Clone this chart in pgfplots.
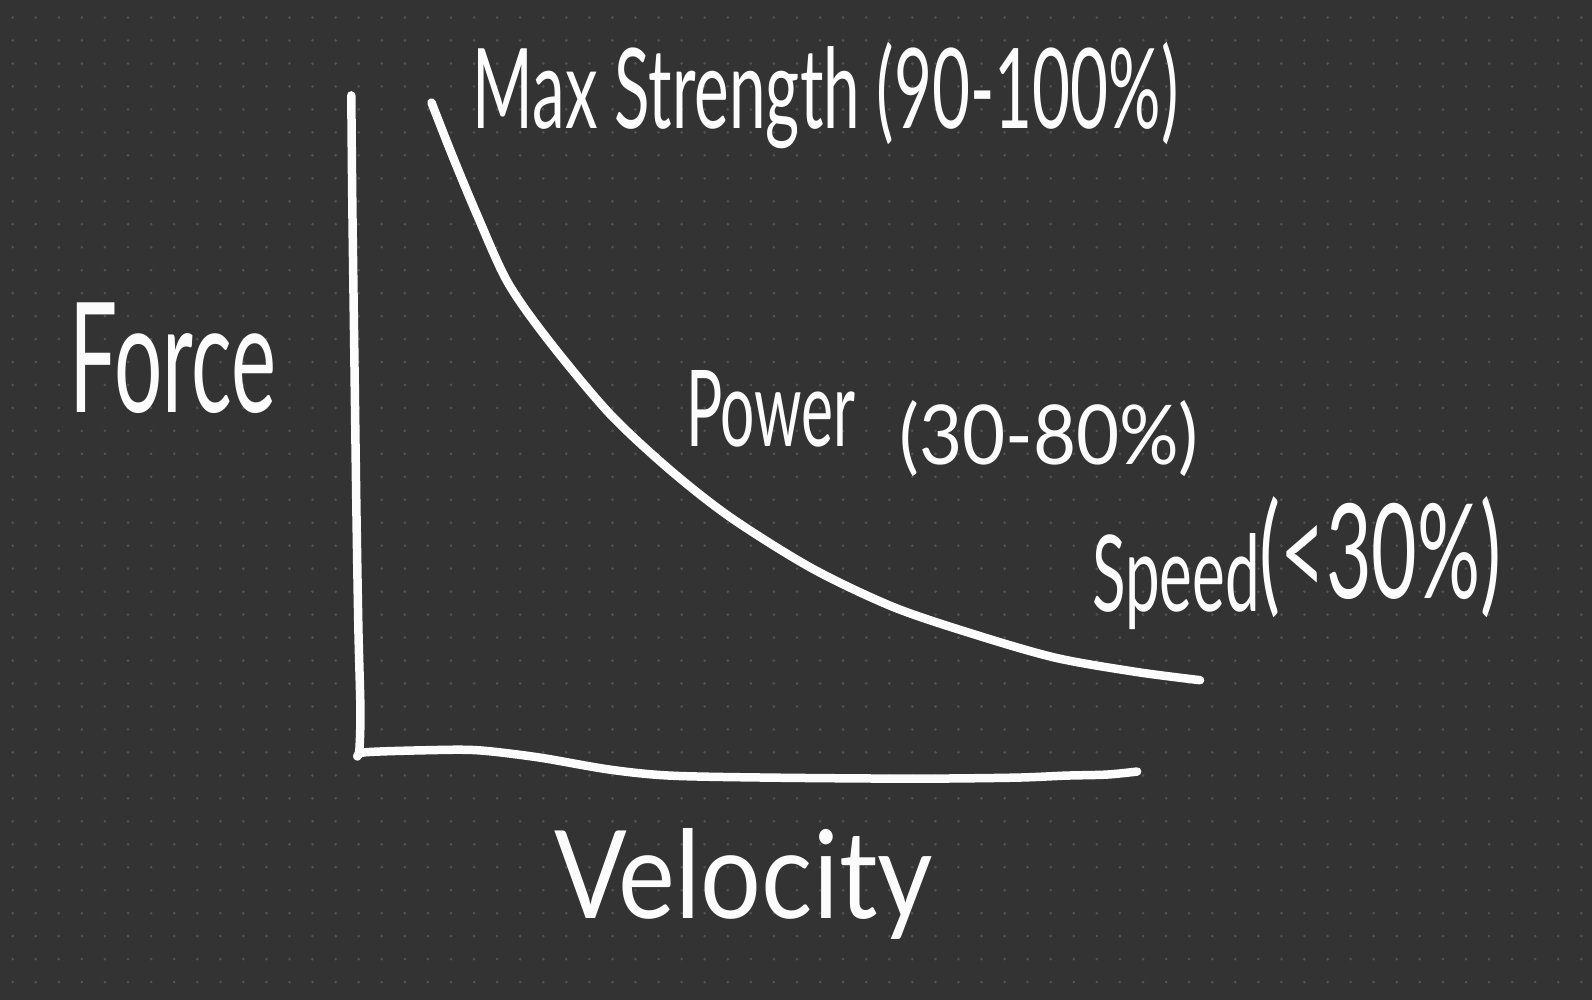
\documentclass[border=0pt]{standalone}
\usepackage{pgfplots}
\pgfplotsset{compat=1.18}
\usepackage{fontspec}
\setmainfont{Lato}
\definecolor{bg}{RGB}{51,51,51}
\definecolor{dotc}{RGB}{82,82,82}
\definecolor{ink}{RGB}{252,252,252}
\begin{document}
\begin{tikzpicture}
\begin{axis}[
  at={(0,0)}, anchor=south west,
  scale only axis, width=15.92cm, height=10cm,
  xmin=0, xmax=1568, ymin=0, ymax=985, y dir=reverse,
  axis background/.style={fill=bg},
  axis line style={draw=none},
  major tick length=0pt,
  xtick={12.5,35.22,...,1568}, ytick=\empty,
  xticklabels={},
  xmajorgrids,
  grid style={draw=dotc, line width=0.3mm, line cap=round,
    dash pattern=on 0pt off 6.534pt, dash phase=1.534pt},
  clip=false,
]
% y axis stroke
\addplot[ink, line width=0.85mm, line cap=round, line join=round, smooth, tension=0.5]
  coordinates {(346,94) (347,200) (349,350) (351,500) (353,620) (355,700) (354,738) (352,745)};
% x axis stroke
\addplot[ink, line width=0.85mm, line cap=round, line join=round, smooth, tension=0.5]
  coordinates {(352,745) (360,741) (420,739) (470,739) (530,746) (600,758) (660,764)
               (760,766) (900,767) (1000,766) (1050,764) (1090,763) (1120,760)};
% force-velocity curve
\addplot[ink, line width=0.85mm, line cap=round, line join=round, smooth, tension=0.5]
  coordinates {(425,101) (445,152) (470,212) (500,278) (540,335)
               (600,407) (660,463) (720,510) (800,560) (880,598) (960,625)
               (1040,648) (1120,662) (1182,670)};
% labels
\node[anchor=base west, inner sep=0, text=ink] at (axis cs:68,406)
  {\resizebox{20.71mm}{10.97mm}{Force}};
\node[anchor=base west, inner sep=0, text=ink] at (axis cs:545,905)
  {\resizebox{37.87mm}{9.0mm}{Velocity}};
\node[anchor=base west, inner sep=0, text=ink] at (axis cs:465,127)
  {\resizebox{70.56mm}{8.63mm}{Max Strength (90-100\%)}};
\node[anchor=base west, inner sep=0, text=ink] at (axis cs:675,440)
  {\resizebox{16.96mm}{7.6mm}{Power}};
\node[anchor=base west, inner sep=0, text=ink] at (axis cs:885,458)
  {\resizebox{29.95mm}{6.4mm}{(30-80\%)}};
\node[anchor=base west, inner sep=0, text=ink] at (axis cs:1075,602)
  {\resizebox{16.75mm}{7.8mm}{Speed}};
\node[anchor=base west, inner sep=0, text=ink] at (axis cs:1240,590)
  {\resizebox{24.2mm}{10.2mm}{(<30\%)}};
\end{axis}
\pgfresetboundingbox
\path[use as bounding box] (0,0) rectangle (15.92cm,10cm);
\end{tikzpicture}
\end{document}
